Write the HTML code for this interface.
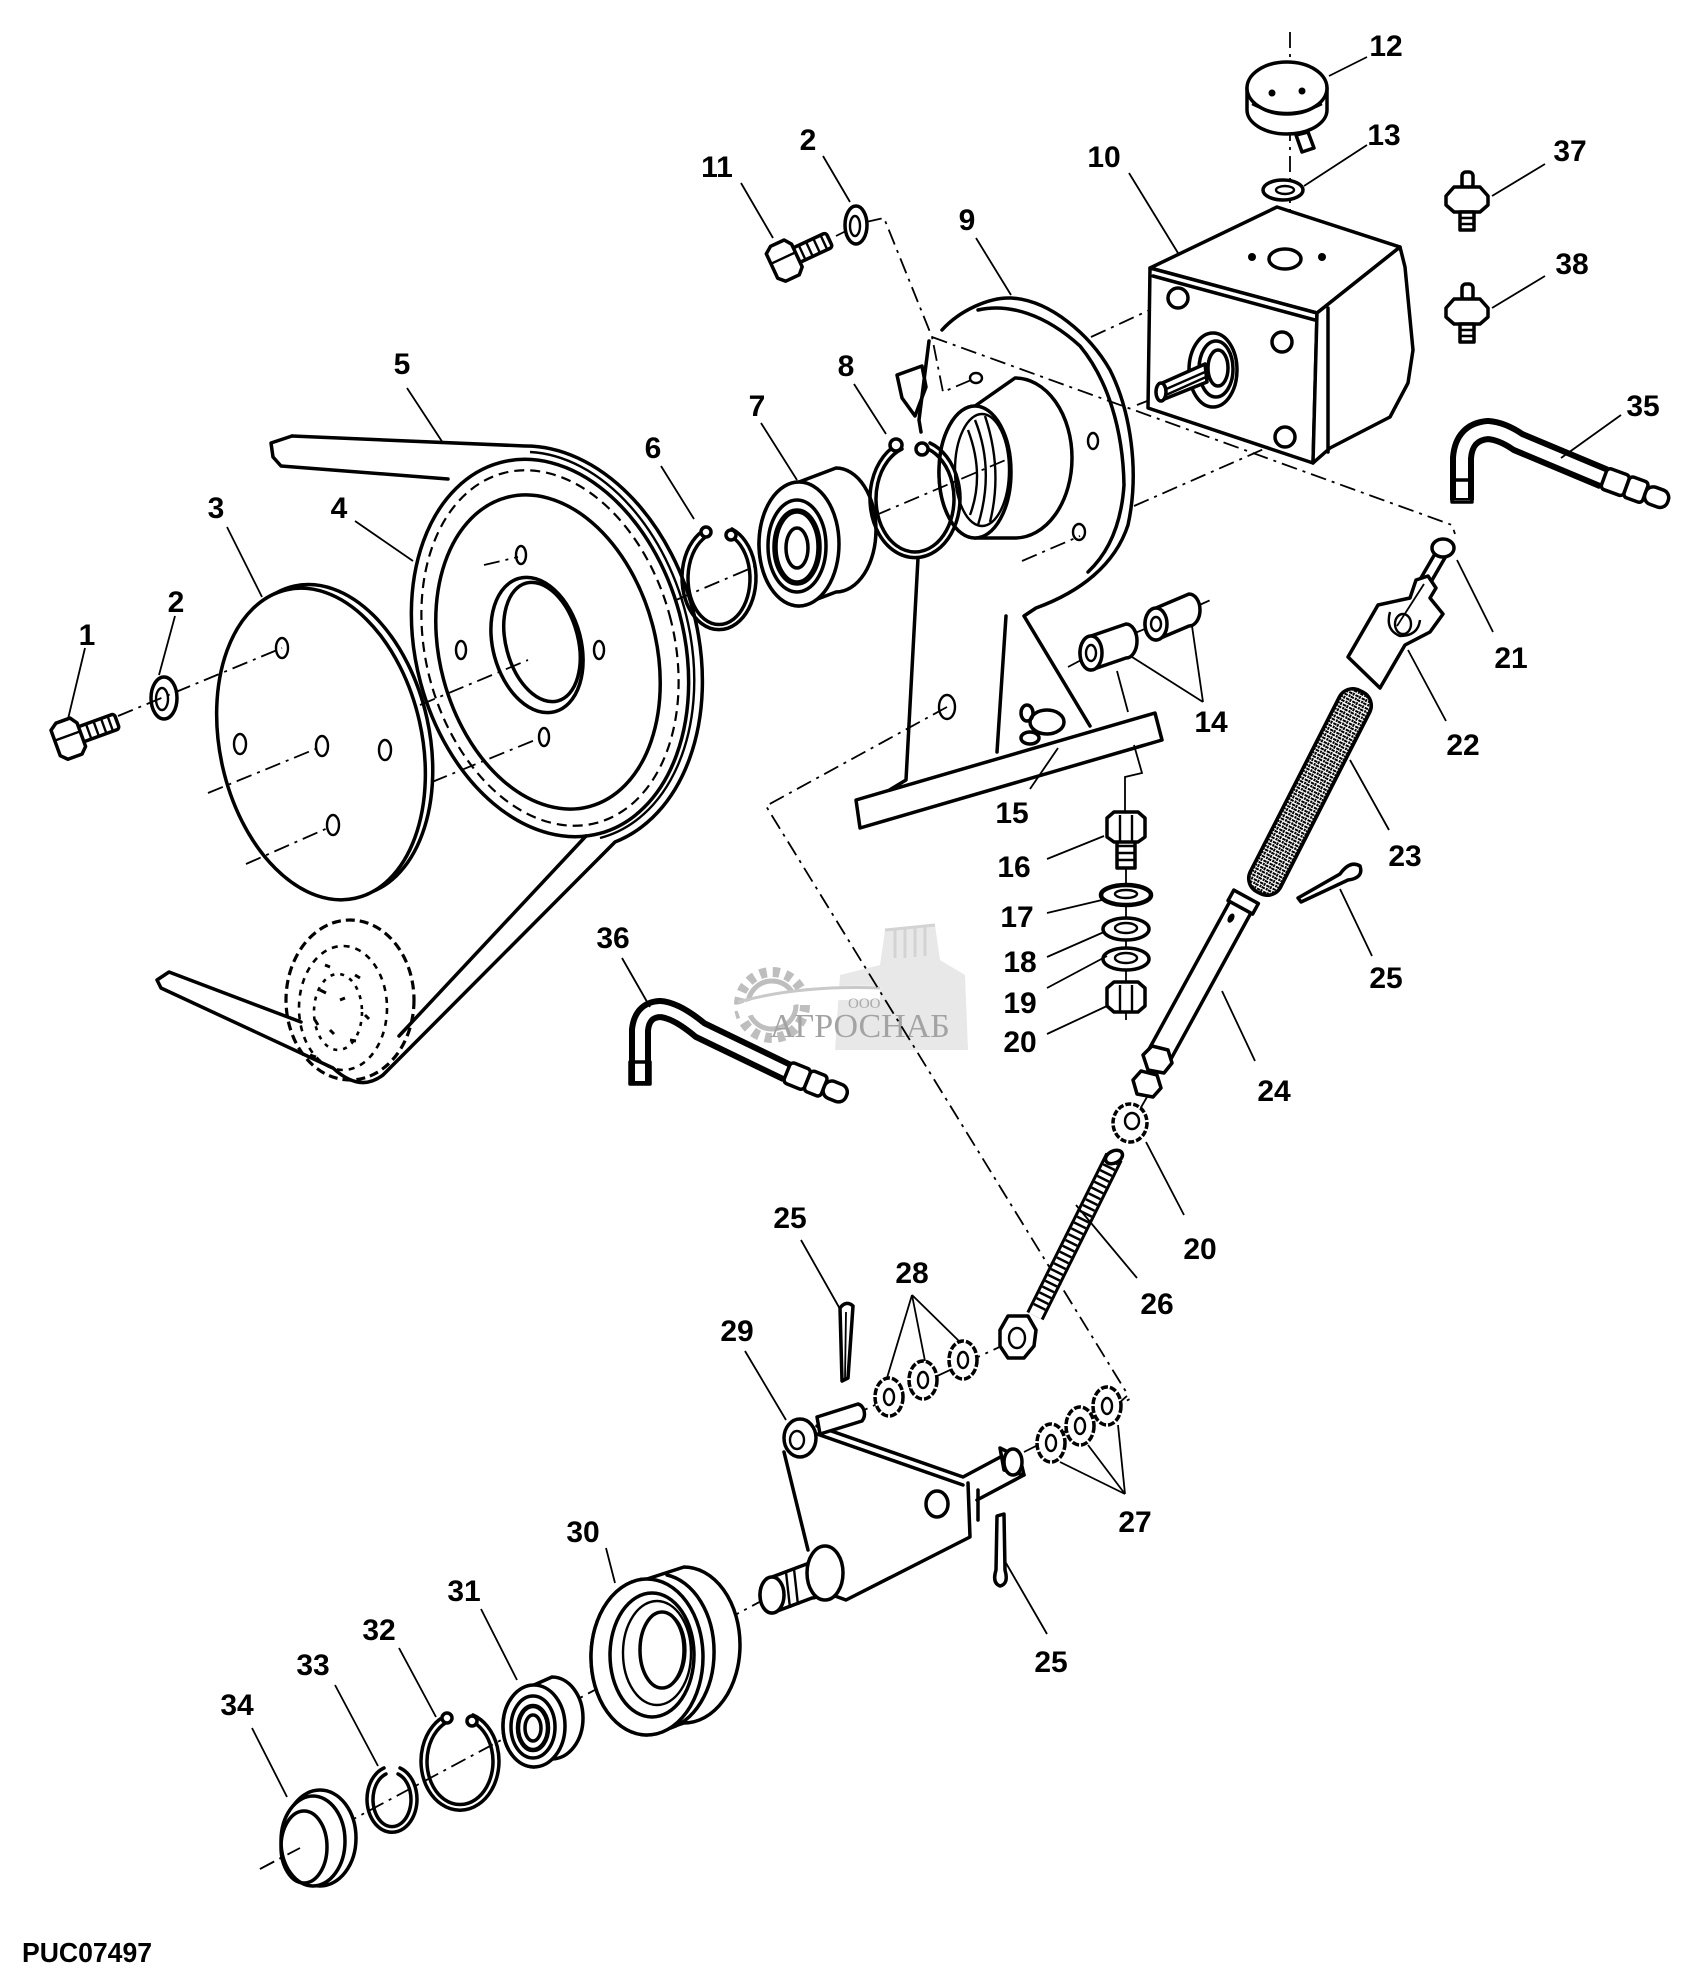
<!DOCTYPE html>
<html><head><meta charset="utf-8"><style>
html,body{margin:0;padding:0;background:#fff}
svg{display:block}
.o{fill:none;stroke:#000;stroke-width:3.5;stroke-linejoin:round;stroke-linecap:round}
.w{fill:#fff;stroke:#000;stroke-width:3.5;stroke-linejoin:round}
.t{fill:none;stroke:#000;stroke-width:2.4}
.l{fill:none;stroke:#000;stroke-width:1.8}
.c{fill:none;stroke:#000;stroke-width:1.8;stroke-dasharray:16 6 3 6}
.lb{font-family:"Liberation Sans",Arial,sans-serif;font-weight:bold;font-size:30px;text-anchor:middle;fill:#000}
</style></head><body>
<svg xmlns="http://www.w3.org/2000/svg" width="1701" height="1985" viewBox="0 0 1701 1985">
<defs>
<pattern id="st" width="7" height="7" patternUnits="userSpaceOnUse">
<rect width="7" height="7" fill="#fff"/>
<path d="M0 1.5h3.5M3.5 5h3.5M5.5 0v2.5M1.5 3.5v3" stroke="#000" stroke-width="1.9"/>
</pattern>
</defs>

<!-- watermark -->
<g opacity="0.9">
<path d="M835,1050 L840,975 L880,965 L885,930 L935,925 L940,960 L965,975 L968,1050 Z" fill="#e6e6e6"/>
<path d="M885,930 L935,925 M895,928 v30 M905,928 v30 M915,927 v30 M925,926 v30" stroke="#cfcfcf" stroke-width="3" fill="none"/>
<circle cx="772" cy="1005" r="33" fill="none" stroke="#b8b8b8" stroke-width="10" stroke-dasharray="7 6"/>
<circle cx="772" cy="1005" r="24" fill="none" stroke="#b8b8b8" stroke-width="5"/>
<path d="M738,1012 Q800,990 880,993" stroke="#fff" stroke-width="14" fill="none"/>
<path d="M738,1002 Q800,985 880,988" stroke="#c4c4c4" stroke-width="3" fill="none"/>
<text x="848" y="1008" font-family="Liberation Serif, serif" font-size="15" fill="#a0a0a0">ООО</text>
<text x="770" y="1037" font-family="Liberation Serif, serif" font-size="34" fill="#9a9a9a">АГРОСНАБ</text>
</g>

<!-- ===== Pulley 4 ===== -->
<ellipse cx="550" cy="648" rx="134" ry="192" transform="rotate(-15 550 648)" class="w"/>
<ellipse cx="550" cy="648" rx="124" ry="181" transform="rotate(-15 550 648)" fill="none" stroke="#000" stroke-width="2.2" stroke-dasharray="10 6"/>
<ellipse cx="548" cy="652" rx="108" ry="160" transform="rotate(-15 548 652)" class="o"/>
<ellipse cx="537" cy="645" rx="44" ry="69" transform="rotate(-15 537 645)" class="o"/>
<ellipse cx="542" cy="642" rx="36" ry="61" transform="rotate(-15 542 642)" class="o"/>
<ellipse cx="461" cy="650" rx="5" ry="9" class="t"/>
<ellipse cx="599" cy="650" rx="5" ry="9" class="t"/>
<ellipse cx="544" cy="737" rx="5" ry="9" class="t"/>
<ellipse cx="521" cy="555" rx="5" ry="9" class="t"/>

<!-- belt 5 -->
<path class="o" d="M292,436 L271,443 L273,457 L281,466 L448,479"/>
<path class="o" d="M292,436 L525,446 A147 205 -15 0 1 615,842 L383,1075 Q360,1093 333,1068 L161,988 L157,980 L169,972 L301,1022"/>
<path class="t" d="M530,452 A140 198 -15 0 1 600,838"/>
<path class="o" d="M586,836 L399,1036"/>
<!-- idler (dashed) -->
<ellipse cx="350" cy="1000" rx="64" ry="80" fill="none" stroke="#000" stroke-width="3.2" stroke-dasharray="9 5"/>
<ellipse cx="343" cy="1008" rx="44" ry="62" fill="none" stroke="#000" stroke-width="2.6" stroke-dasharray="6 6"/>
<ellipse cx="338" cy="1012" rx="24" ry="38" fill="none" stroke="#000" stroke-width="2.6" stroke-dasharray="4 6"/>
<path d="M320,990 l6,3 M340,1000 l5,-2 M330,1030 l4,4 M350,1040 l6,1 M315,1020 l3,5 M355,975 l5,3 M310,1055 l6,2 M365,1015 l4,4 M325,965 l5,2" stroke="#000" stroke-width="3"/>

<!-- ===== Disc 3 ===== -->
<ellipse cx="329" cy="742" rx="101" ry="158" transform="rotate(-12.5 321 744)" class="w"/>
<ellipse cx="321" cy="744" rx="101" ry="158" transform="rotate(-12.5 321 744)" class="w"/>
<ellipse cx="282" cy="648" rx="6" ry="10" class="t"/>
<ellipse cx="240" cy="744" rx="6" ry="10" class="t"/>
<ellipse cx="322" cy="746" rx="6" ry="10" class="t"/>
<ellipse cx="385" cy="750" rx="6" ry="10" class="t"/>
<ellipse cx="333" cy="825" rx="6" ry="10" class="t"/>

<!-- bolt 1 -->
<g transform="translate(68,739) rotate(-20)">
<rect x="12" y="-8" width="40" height="16" rx="3" class="w"/>
<path class="t" d="M22,-8v16M30,-8v16M38,-8v16M45,-8v16"/>
<path class="w" d="M-13,-14 L-6,-19 L9,-19 L14,-12 L14,13 L8,19 L-7,19 L-13,13 Z"/>
<path class="t" d="M-13,-3 L14,-3"/>
</g>
<!-- washer 2 -->
<ellipse cx="164" cy="698" rx="13" ry="21" class="w"/>
<ellipse cx="162" cy="699" rx="6" ry="11" class="t"/>

<!-- ===== Housing 9 ===== -->
<path fill="#fff" d="M942,330 C960,310 990,297 1011,298 C1050,300 1090,335 1110,370 C1130,410 1140,470 1128,525 C1115,565 1080,592 1036,608 L1024,616 L1090,726 L997,755 L906,780 L918,558 L930,360 Z"/>
<path class="o" d="M942,330 C960,310 990,297 1011,298 C1050,300 1090,335 1110,370 C1130,410 1140,470 1128,525 C1115,565 1080,592 1036,608 L1024,616 L1090,726"/>
<path class="o" d="M978,310 C1008,303 1045,314 1080,346 C1108,380 1123,430 1124,485 C1121,530 1105,556 1088,572"/>
<path class="o" d="M918,558 L906,780 L883,794"/>
<path class="o" d="M1006,616 L997,752"/>
<polygon class="w" points="856,800 1155,713 1162,740 860,828"/>
<ellipse cx="947" cy="707" rx="8" ry="12" class="t"/>
<ellipse cx="1093" cy="441" rx="5" ry="8" class="t"/>
<ellipse cx="976" cy="378" rx="6" ry="5" class="t"/>
<ellipse cx="1079" cy="532" rx="6" ry="8" class="t"/>
<!-- boss -->
<path class="w" d="M975,406 L1015,378 A57 80 0 0 1 1015,538 L975,538 A36 66 0 0 1 975,406 Z"/>
<ellipse cx="975" cy="472" rx="36" ry="66" class="w"/>
<ellipse cx="982" cy="470" rx="27" ry="56" class="t"/>
<path class="t" d="M975,420 Q995,470 978,525 M985,416 Q1003,470 990,522 M968,430 Q985,475 970,515"/>
<!-- tab -->
<polygon class="w" points="897,375 922,366 926,387 915,416 902,398"/>
<path class="o" d="M929,341 L919,420 M919,420 L921,432"/>

<!-- ===== centerlines ===== -->
<path class="c" d="M118,716 L282,648"/>
<path class="c" d="M208,793 L318,748"/>
<path class="c" d="M246,864 L330,827"/>
<path class="c" d="M420,705 L528,660"/>
<path class="c" d="M432,782 L540,738"/>
<path class="c" d="M484,565 L518,557"/>
<path class="c" d="M676,600 L1008,459"/>
<path class="c" d="M1137,405 L1165,394"/>
<path class="c" d="M836,236 L848,230 M866,222 L884,218 L932,337 L943,392 L976,378"/>
<path class="c" d="M932,337 L1452,525 L1455,534"/>
<path class="c" d="M1091,337 L1178,297"/>
<path class="c" d="M1134,506 L1282,441"/>
<path class="c" d="M1022,561 L1080,536"/>
<path class="c" d="M947,707 L766,806 L1128,1395 L1119,1403"/>
<path class="c" d="M1290,32 L1290,262"/>
<path class="c" d="M1068,667 L1085,658 M1135,633 L1152,626 M1195,607 L1215,598"/>
<path class="c" d="M1008,1343 L860,1412"/>
<path class="c" d="M1024,1452 L1130,1399"/>
<path class="c" d="M260,1869 L765,1599"/>

<!-- ring 6 -->
<path class="o" d="M732,529 A37 52 0 1 1 706,529 M729,535 A31 46 0 1 1 709,535"/>
<circle cx="706" cy="532" r="5" class="w"/><circle cx="731" cy="535" r="5" class="w"/>
<!-- bearing 7 -->
<path class="w" d="M799,482 L836,468 A40 62 0 0 1 836,592 L799,606 A40 62 0 0 1 799,482 Z"/>
<ellipse cx="799" cy="544" rx="40" ry="62" class="w"/>
<ellipse cx="797" cy="546" rx="29" ry="46" class="o"/>
<ellipse cx="797" cy="547" rx="22" ry="36" fill="none" stroke="#000" stroke-width="5.5"/>
<ellipse cx="797" cy="548" rx="11" ry="20" class="o"/>
<!-- ring 8 -->
<path class="o" d="M930,443 A45 59 0 1 1 900,443 M928,449 A39 53 0 1 1 902,449"/>
<circle cx="896" cy="445" r="6" class="w"/><circle cx="922" cy="449" r="6" class="w"/>

<!-- bolt 11 & washer 2 -->
<g transform="translate(784,261) rotate(-25)">
<rect x="10" y="-8" width="40" height="16" rx="3" class="w"/>
<path class="t" d="M20,-8v16M28,-8v16M36,-8v16M44,-8v16"/>
<path class="w" d="M-13,-14 L-6,-19 L9,-19 L14,-12 L14,13 L8,19 L-7,19 L-13,13 Z"/>
<path class="t" d="M-13,-3 L14,-3"/>
</g>
<ellipse cx="856" cy="225" rx="11" ry="19" class="w"/>
<ellipse cx="855" cy="226" rx="5" ry="10" class="t"/>

<!-- ===== Gearbox 10 ===== -->
<path class="w" d="M1150,268 L1277,207 L1400,247 L1317,313 Z"/>
<path class="w" d="M1150,268 L1317,313 L1313,463 L1148,408 Z"/>
<path class="w" d="M1317,313 L1400,247 L1405,267 L1413,350 L1408,383 L1390,417 L1330,448 L1313,463 Z"/>
<path class="o" d="M1328,308 L1328,452 M1153,276 L1315,320"/>
<g class="w">
<circle cx="1178" cy="298" r="10"/><circle cx="1282" cy="342" r="10"/><circle cx="1285" cy="437" r="10"/>
</g>
<ellipse cx="1285" cy="259" rx="16" ry="10" class="o"/>
<circle cx="1252" cy="257" r="4" fill="#000"/><circle cx="1322" cy="257" r="4" fill="#000"/>
<ellipse cx="1213" cy="370" rx="24" ry="37" class="w"/>
<ellipse cx="1216" cy="369" rx="17" ry="28" class="o"/>
<ellipse cx="1218" cy="368" rx="10" ry="18" class="o"/>
<path class="w" d="M1160,384 L1205,364 L1207,382 L1162,400 Z"/>
<path class="t" d="M1164,390 L1205,372 M1166,395 L1206,377"/>
<ellipse cx="1161" cy="392" rx="5" ry="9" class="w"/>

<!-- cap 12 -->
<path class="w" d="M1247,88 L1247,110 A40 24 0 0 0 1327,110 L1327,88 Z"/>
<ellipse cx="1287" cy="88" rx="40" ry="26" class="w"/>
<path class="t" d="M1252,104 Q1287,122 1322,104"/>
<circle cx="1272" cy="93" r="3.5" fill="#000"/><circle cx="1302" cy="91" r="3.5" fill="#000"/>
<path class="w" d="M1296,135 L1308,132 L1314,148 L1302,152 Z"/>
<!-- washer 13 -->
<ellipse cx="1283" cy="190" rx="20" ry="10" class="w"/>
<ellipse cx="1285" cy="190" rx="9" ry="4" class="t"/>

<!-- studs 37, 38 -->
<g transform="translate(1467,200)">
<rect x="-5" y="-28" width="11" height="16" rx="4" class="w"/>
<path class="w" d="M-21,-4 L-13,-13 L13,-13 L21,-4 L21,5 L13,12 L-13,12 L-21,5 Z"/>
<rect x="-7" y="12" width="14" height="18" class="w"/>
<path class="t" d="M-7,18h14M-7,24h14"/>
</g>
<g transform="translate(1467,312)">
<rect x="-5" y="-28" width="11" height="16" rx="4" class="w"/>
<path class="w" d="M-21,-4 L-13,-13 L13,-13 L21,-4 L21,5 L13,12 L-13,12 L-21,5 Z"/>
<rect x="-7" y="12" width="14" height="18" class="w"/>
<path class="t" d="M-7,18h14M-7,24h14"/>
</g>

<!-- hose 35 -->
<path d="M1462,500 L1462,458 Q1464,432 1488,430 Q1502,431 1518,442 L1604,478" fill="none" stroke="#000" stroke-width="24"/>
<path d="M1462,498 L1462,458 Q1464,432 1488,430 Q1502,431 1518,442 L1604,478" fill="none" stroke="#fff" stroke-width="12"/>
<rect x="1452" y="480" width="20" height="22" class="o"/>
<g transform="translate(1604,478) rotate(20)">
<rect x="0" y="-11" width="24" height="22" rx="4" class="w"/>
<rect x="24" y="-11" width="20" height="22" rx="4" class="w"/>
<rect x="44" y="-9" width="24" height="18" rx="8" class="w"/>
</g>

<!-- hose 36 -->
<path d="M640,1083 L640,1030 Q642,1010 660,1009 Q676,1010 700,1030 L787,1072" fill="none" stroke="#000" stroke-width="22"/>
<path d="M640,1081 L640,1030 Q642,1010 660,1009 Q676,1010 700,1030 L787,1072" fill="none" stroke="#fff" stroke-width="10"/>
<rect x="630" y="1062" width="20" height="22" class="o"/>
<g transform="translate(787,1072) rotate(22)">
<rect x="0" y="-11" width="22" height="22" rx="4" class="w"/>
<rect x="22" y="-11" width="18" height="22" rx="4" class="w"/>
<rect x="40" y="-9" width="24" height="18" rx="8" class="w"/>
</g>

<!-- bushings 14 -->
<path class="w" d="M1091,636 L1126,624 A11 17 0 0 1 1126,658 L1091,670 A11 17 0 0 1 1091,636 Z"/>
<ellipse cx="1091" cy="653" rx="11" ry="17" class="w"/><ellipse cx="1091" cy="653" rx="5" ry="8" class="t"/>
<path class="w" d="M1156,608 L1189,594 A11 16 0 0 1 1189,626 L1156,640 A11 16 0 0 1 1156,608 Z"/>
<ellipse cx="1156" cy="624" rx="11" ry="16" class="w"/><ellipse cx="1156" cy="624" rx="5" ry="7" class="t"/>
<!-- fitting 15 -->
<ellipse cx="1047" cy="722" rx="17" ry="12" class="w"/>
<ellipse cx="1030" cy="738" rx="9" ry="6" class="w"/>
<ellipse cx="1027" cy="713" rx="6" ry="8" class="o"/>
<!-- bolt stack 16-20 -->
<path class="l" d="M1117,671 L1128,712 M1134,745 L1142,773 L1125,777 L1125,812 M1126,840 L1126,1020"/>
<rect x="1117" y="838" width="18" height="30" class="w"/>
<path class="t" d="M1117,846h18M1117,853h18M1117,860h18"/>
<path class="w" d="M1107,818 L1114,812 L1138,812 L1145,818 L1145,837 L1138,842 L1114,842 L1107,837 Z"/>
<path class="t" d="M1120,815v26M1132,815v26"/>
<ellipse cx="1126" cy="895" rx="25" ry="10" fill="#fff" stroke="#000" stroke-width="4.5"/>
<ellipse cx="1126" cy="894" rx="11" ry="4" class="t"/>
<ellipse cx="1126" cy="929" rx="23" ry="11" class="w"/><ellipse cx="1126" cy="928" rx="11" ry="5" class="t"/>
<ellipse cx="1126" cy="959" rx="23" ry="11" class="w"/><ellipse cx="1126" cy="958" rx="11" ry="5" class="t"/>
<path class="w" d="M1107,988 L1114,982 L1138,982 L1145,988 L1145,1006 L1138,1012 L1114,1012 L1107,1006 Z"/>
<path class="t" d="M1120,985v26M1132,985v26"/>

<!-- pin 21 & clevis 22 -->
<path class="w" d="M1436,552 L1446,556 L1424,594 L1414,590 Z"/>
<ellipse cx="1443" cy="548" rx="11" ry="9" class="w"/>
<path class="w" d="M1348,657 L1378,605 L1410,598 L1416,580 L1428,576 L1436,588 L1430,598 L1443,614 L1430,632 L1405,645 L1380,688 Z"/>
<path class="t" d="M1390,612 Q1385,630 1400,636 Q1418,636 1420,620"/>
<ellipse cx="1403" cy="624" rx="8" ry="10" class="t"/>
<path class="l" d="M1424,584 L1397,626"/>

<!-- rod 24 -->
<g transform="translate(1200,981) rotate(28.7)">
<rect x="-12" y="-92" width="24" height="184" class="w"/>
<rect x="-14" y="-96" width="28" height="12" class="w"/>
<ellipse cx="-3" cy="-70" rx="3" ry="5" fill="#000"/>
</g>
<!-- boot 23 -->
<g transform="translate(1310,792) rotate(27)">
<rect x="-17" y="-113" width="34" height="226" rx="15" fill="url(#st)" stroke="#000" stroke-width="3.5"/>
</g>
<path class="w" d="M1143,1055 L1152,1046 L1168,1050 L1172,1063 L1164,1073 L1148,1070 Z"/>
<path class="w" d="M1133,1080 L1141,1071 L1157,1075 L1161,1088 L1153,1097 L1137,1094 Z"/>
<path class="l" d="M1147,1097 L1132,1123"/>
<!-- cotter 25 right -->
<path class="w" d="M1298,898 L1340,874 Q1350,860 1360,866 Q1364,878 1348,880 L1301,902 Z"/>
<!-- nut 20 lower -->
<ellipse cx="1130" cy="1123" rx="17" ry="19" fill="#fff" stroke="#000" stroke-width="3.5" stroke-dasharray="6 2"/>
<ellipse cx="1132" cy="1121" rx="7" ry="8" class="t"/>
<!-- threaded rod 26 -->
<path d="M1035,1316 L1114,1157" stroke="#000" stroke-width="19" fill="none"/>
<path d="M1035,1316 L1114,1157" stroke="#fff" stroke-width="13" fill="none"/>
<path d="M1039,1308 L1112,1161" stroke="#000" stroke-width="13" stroke-dasharray="2.5 4" fill="none"/>
<ellipse cx="1114" cy="1157" rx="9" ry="6" transform="rotate(-27 1114 1157)" class="w"/>
<path class="w" d="M1000,1330 L1008,1316 L1028,1316 L1036,1330 L1034,1346 L1024,1358 L1008,1358 L1000,1346 Z"/>
<ellipse cx="1017" cy="1338" rx="8" ry="10" class="t"/>

<!-- washers 28 & 27 -->
<g fill="#fff" stroke="#000" stroke-width="3.5" stroke-dasharray="7 2">
<ellipse cx="889" cy="1397" rx="14" ry="19"/><ellipse cx="923" cy="1380" rx="14" ry="19"/><ellipse cx="963" cy="1360" rx="14" ry="19"/>
<ellipse cx="1051" cy="1443" rx="14" ry="19"/><ellipse cx="1080" cy="1426" rx="14" ry="19"/><ellipse cx="1107" cy="1406" rx="14" ry="19"/>
</g>
<g class="t">
<ellipse cx="889" cy="1397" rx="5" ry="8"/><ellipse cx="923" cy="1380" rx="5" ry="8"/><ellipse cx="963" cy="1360" rx="5" ry="8"/>
<ellipse cx="1051" cy="1443" rx="5" ry="8"/><ellipse cx="1080" cy="1426" rx="5" ry="8"/><ellipse cx="1107" cy="1406" rx="5" ry="8"/>
</g>
<!-- cotter 25 mid / bottom -->
<path class="w" d="M840,1308 Q846,1300 853,1306 L848,1378 L842,1381 Z"/>
<path class="l" d="M846,1312 L845,1378"/>
<path class="w" d="M997,1516 L1004,1514 L1005,1570 Q1009,1584 1000,1586 Q992,1583 996,1570 Z"/>

<!-- ===== bracket 29 ===== -->
<path fill="#fff" d="M790,1428 L963,1480 L1006,1456 L1024,1475 L977,1500 L970,1537 L846,1600 L808,1552 Z"/>
<path class="o" d="M817,1426 L963,1477 L1006,1454 M817,1434 L963,1485 M977,1500 L1024,1475 M968,1483 L970,1537 L846,1600 L835,1596 M978,1490 L978,1520 M784,1452 L808,1550"/>
<path class="w" d="M1000,1448 L1020,1458 L1024,1475 L1004,1470 Z"/>
<ellipse cx="1013" cy="1462" rx="9" ry="13" class="w"/>
<ellipse cx="800" cy="1438" rx="16" ry="19" class="w"/>
<ellipse cx="797" cy="1440" rx="7" ry="9" class="t"/>
<path class="w" d="M817,1417 L858,1404 A8 10 0 0 1 862,1421 L820,1434 Z"/>
<ellipse cx="937" cy="1504" rx="11" ry="13" class="o"/>
<!-- hub & stub -->
<path class="w" d="M772,1577 L812,1562 A12 18 0 0 1 812,1598 L772,1613 A12 18 0 0 1 772,1577 Z"/>
<ellipse cx="825" cy="1573" rx="18" ry="27" class="w"/>
<ellipse cx="772" cy="1595" rx="12" ry="18" class="w"/>
<path class="t" d="M786,1572 L790,1608 M794,1569 L798,1605"/>

<!-- pulley 30 -->
<path class="w" d="M647,1579 L684,1567 A56 78 0 0 1 684,1723 L647,1735 A56 78 0 0 1 647,1579 Z"/>
<path class="o" d="M667,1575 A56 78 0 0 1 667,1729"/>
<ellipse cx="647" cy="1657" rx="56" ry="78" class="w"/>
<ellipse cx="652" cy="1655" rx="42" ry="62" class="o"/>
<ellipse cx="657" cy="1653" rx="34" ry="52" class="t"/>
<ellipse cx="662" cy="1650" rx="22" ry="38" class="o"/>
<path class="t" d="M672,1616 A20 36 0 0 1 672,1684"/>
<!-- bearing 31 -->
<path class="w" d="M534,1685 L552,1677 A31 41 0 0 1 552,1759 L534,1767 A31 41 0 0 1 534,1685 Z"/>
<ellipse cx="534" cy="1726" rx="31" ry="41" class="w"/>
<ellipse cx="533" cy="1727" rx="22" ry="31" class="o"/>
<ellipse cx="533" cy="1728" rx="15" ry="22" fill="none" stroke="#000" stroke-width="4.5"/>
<ellipse cx="533" cy="1728" rx="8" ry="13" class="o"/>
<!-- ring 32 -->
<path class="o" d="M473,1715 A39 49 0 1 1 447,1715 M471,1721 A33 43 0 1 1 449,1721"/>
<circle cx="447" cy="1718" r="5" class="w"/><circle cx="472" cy="1721" r="5" class="w"/>
<!-- ring 33 -->
<path class="o" d="M400,1768 A25 33 0 1 1 384,1768 M398,1774 A19 27 0 1 1 386,1774"/>
<!-- cap 34 -->
<ellipse cx="320" cy="1838" rx="36" ry="48" class="w"/>
<ellipse cx="313" cy="1841" rx="32" ry="45" class="w"/>
<ellipse cx="304" cy="1847" rx="23" ry="36" class="o"/>
<path class="c" d="M260,1869 L300,1848"/>

<!-- ===== leader lines ===== -->
<path class="l" d="M85,648 L68,719 M175,616 L159,675 M227,527 L262,597 M355,521 L413,561 M407,388 L443,443
M661,466 L694,519 M761,423 L797,480 M854,384 L886,434 M976,238 L1011,295 M1129,173 L1178,253
M741,183 L773,238 M823,156 L850,202 M1367,57 L1329,76 M1367,145 L1304,186 M1545,164 L1492,196
M1545,276 L1492,308 M1621,415 L1561,458 M1493,632 L1457,560 M1446,721 L1408,650
M1203,702 L1132,657 M1203,702 L1192,626 M1030,789 L1058,748
M1047,859 L1104,836 M1047,913 L1102,900 M1047,957 L1104,932 M1047,988 L1107,956 M1047,1034 L1107,1006
M1389,830 L1350,760 M1372,956 L1340,889 M1255,1061 L1222,991 M622,958 L650,1007
M1184,1215 L1146,1142 M1137,1278 L1076,1205 M801,1240 L840,1309
M912,1295 L887,1378 M912,1295 L925,1361 M912,1295 L961,1343 M745,1351 L786,1420
M1125,1494 L1060,1462 M1125,1494 L1088,1445 M1125,1494 L1118,1425 M1047,1634 L1006,1563
M606,1548 L615,1583 M481,1609 L517,1680 M399,1648 L436,1717 M335,1685 L378,1766 M252,1728 L287,1797"/>

<!-- ===== labels ===== -->
<g class="lb">
<text x="87" y="645">1</text>
<text x="176" y="612">2</text>
<text x="216" y="518">3</text>
<text x="339" y="518">4</text>
<text x="402" y="374">5</text>
<text x="653" y="458">6</text>
<text x="757" y="416">7</text>
<text x="846" y="376">8</text>
<text x="967" y="230">9</text>
<text x="1104" y="167">10</text>
<text x="717" y="177">11</text>
<text x="808" y="150">2</text>
<text x="1386" y="56">12</text>
<text x="1384" y="145">13</text>
<text x="1570" y="161">37</text>
<text x="1572" y="274">38</text>
<text x="1643" y="416">35</text>
<text x="1511" y="668">21</text>
<text x="1463" y="755">22</text>
<text x="1211" y="732">14</text>
<text x="1012" y="823">15</text>
<text x="1014" y="877">16</text>
<text x="1017" y="927">17</text>
<text x="1020" y="972">18</text>
<text x="1020" y="1013">19</text>
<text x="1020" y="1052">20</text>
<text x="1405" y="866">23</text>
<text x="1386" y="988">25</text>
<text x="1274" y="1101">24</text>
<text x="613" y="948">36</text>
<text x="1200" y="1259">20</text>
<text x="1157" y="1314">26</text>
<text x="790" y="1228">25</text>
<text x="912" y="1283">28</text>
<text x="737" y="1341">29</text>
<text x="583" y="1542">30</text>
<text x="1135" y="1532">27</text>
<text x="1051" y="1672">25</text>
<text x="464" y="1601">31</text>
<text x="379" y="1640">32</text>
<text x="313" y="1675">33</text>
<text x="237" y="1715">34</text>
</g>
<text x="22" y="1962" font-family="Liberation Sans, Arial, sans-serif" font-weight="bold" font-size="28" textLength="130" lengthAdjust="spacingAndGlyphs">PUC07497</text>
</svg>
</body></html>
